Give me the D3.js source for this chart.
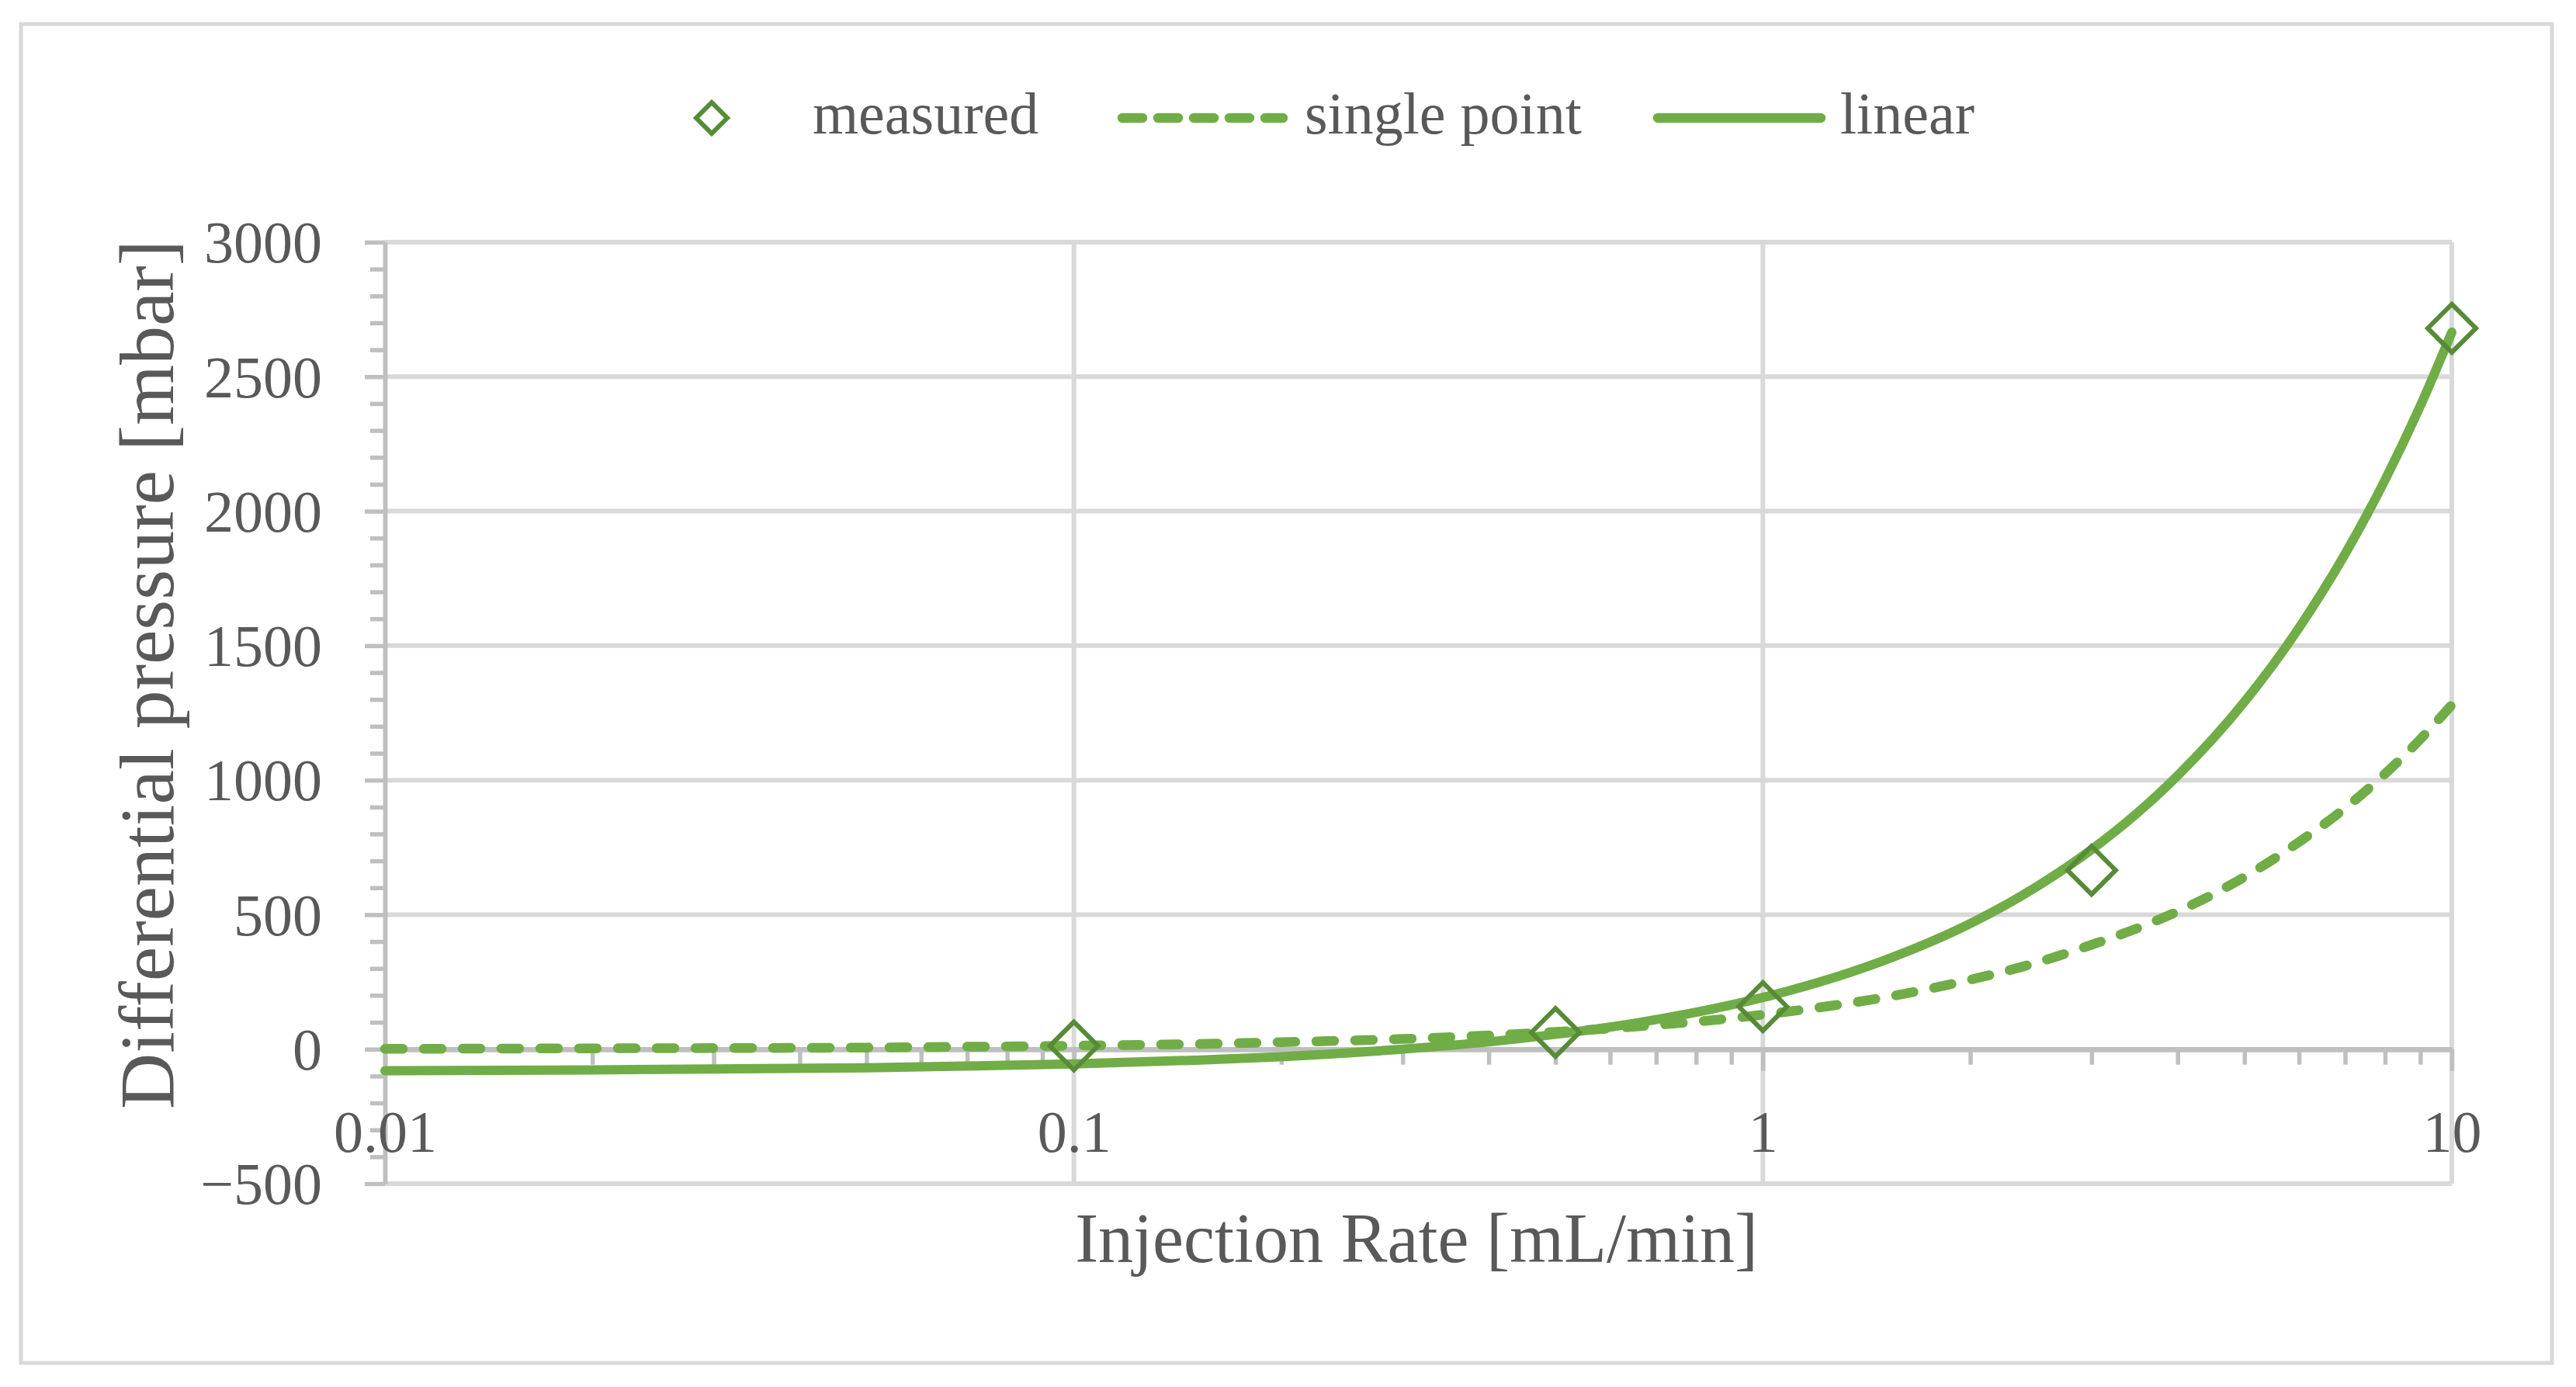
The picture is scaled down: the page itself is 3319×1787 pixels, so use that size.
<!DOCTYPE html>
<html>
<head>
<meta charset="utf-8">
<script src="https://cdn.jsdelivr.net/npm/d3@7"></script>
<style>
  html, body { margin: 0; padding: 0; background: #ffffff; }
  svg { display: block; }
  text { font-family: "Liberation Serif", "DejaVu Serif", serif; fill: #595959; }
</style>
</head>
<body>
<script>
// ---------------- data ----------------
const seriesNames = ["measured", "single point", "linear"];

const measuredX = [0.1, 0.5, 1, 3, 10];
const measuredY = [12, 62, 158, 665, 2680];

const curveX = [0.01, 0.02, 0.03, 0.05, 0.07, 0.1, 0.15, 0.2, 0.3, 0.4, 0.5, 0.6, 0.7, 0.8,
                1, 1.2, 1.5, 2, 2.5, 3, 3.5, 4, 5, 6, 7, 8, 9, 10];
const singlePointY = [1, 3, 4, 6, 9, 13, 19, 26, 38, 51, 64, 77, 90, 102,
                      128, 154, 192, 258, 322, 388, 450, 512, 640, 770, 896, 1024, 1152, 1280];
const linearY = [-80, -77, -74, -69, -63, -55, -41, -28, 0, 27, 55, 82, 110, 137,
                 192, 247, 330, 467, 605, 742, 879, 1017, 1291, 1566, 1841, 2116, 2391, 2665];

const yTicks = [-500, 0, 500, 1000, 1500, 2000, 2500, 3000];
const yTickLabels = ["\u2212500", "0", "500", "1000", "1500", "2000", "2500", "3000"];
const yMinorTicks = d3.range(-500, 3001, 100).filter(v => v % 500 !== 0);
const xTicks = [0.01, 0.1, 1, 10];
const xTickLabels = ["0.01", "0.1", "1", "10"];
const xMinorTicks = [0.02,0.03,0.04,0.05,0.06,0.07,0.08,0.09,
                     0.2,0.3,0.4,0.5,0.6,0.7,0.8,0.9,
                     2,3,4,5,6,7,8,9];

const xTitle = "Injection Rate [mL/min]";
const yTitle = "Differential pressure [mbar]";

// ---------------- layout ----------------
const W = 3319, H = 1787;
const green = "#70ad47";
const darkGreen = "#578b37";
const gridColor = "#d9d9d9";
const axisColor = "#bfbfbf";

const svg = d3.select("body").append("svg")
  .attr("width", W).attr("height", H)
  .attr("viewBox", `0 0 ${W} ${H}`);

svg.append("rect").attr("x", 0).attr("y", 0).attr("width", W).attr("height", H).attr("fill", "#fff");

// outer chart border
svg.append("rect")
  .attr("x", 27).attr("y", 31).attr("width", 3261).attr("height", 1725)
  .attr("fill", "none").attr("stroke", gridColor).attr("stroke-width", 5);

const x = d3.scaleLog().domain([0.01, 10]).range([496, 3159]);
const y = d3.scaleLinear().domain([-500, 3000]).range([1525, 312]);

// gridlines
const grid = svg.append("g");
grid.selectAll("line.h").data(yTicks.filter(v => v !== 0)).join("line")
  .attr("x1", x(0.01)).attr("x2", x(10))
  .attr("y1", d => y(d)).attr("y2", d => y(d))
  .attr("stroke", gridColor).attr("stroke-width", 6);
grid.selectAll("line.v").data(xTicks.filter(v => v !== 0.01)).join("line")
  .attr("x1", d => x(d)).attr("x2", d => x(d))
  .attr("y1", y(3000)).attr("y2", y(-500))
  .attr("stroke", gridColor).attr("stroke-width", 6);

// y axis
const yAxis = svg.append("g").attr("transform", `translate(${x(0.01)},0)`)
  .call(d3.axisLeft(y).tickValues(yTicks).tickSize(26).tickSizeOuter(0).tickPadding(55)
        .tickFormat((d, i) => yTickLabels[i]));
const yMinor = svg.append("g").attr("transform", `translate(${x(0.01)},0)`)
  .call(d3.axisLeft(y).tickValues(yMinorTicks).tickSize(19).tickSizeOuter(0).tickFormat(""));
[yAxis, yMinor].forEach(g => {
  g.select(".domain").attr("stroke", axisColor).attr("stroke-width", 5.5);
  g.selectAll(".tick line").attr("stroke", axisColor).attr("stroke-width", 5.5);
});
yAxis.selectAll(".tick text")
  .attr("fill", "#595959").attr("font-size", 76)
  .attr("font-family", "'Liberation Serif', serif").attr("dy", "0.34em");

// x axis (crosses at y = 0)
const xAxis = svg.append("g").attr("transform", `translate(0,${y(0)})`)
  .call(d3.axisBottom(x).tickValues(xTicks).tickSize(28).tickSizeOuter(0)
        .tickFormat((d, i) => xTickLabels[i]));
const xMinor = svg.append("g").attr("transform", `translate(0,${y(0)})`)
  .call(d3.axisBottom(x).tickValues(xMinorTicks).tickSize(20).tickSizeOuter(0).tickFormat(""));
[xAxis, xMinor].forEach(g => {
  g.select(".domain").attr("stroke", axisColor).attr("stroke-width", 6.5);
  g.selectAll(".tick line").attr("stroke", axisColor).attr("stroke-width", 5.5);
});
xAxis.selectAll(".tick text")
  .attr("fill", "#595959").attr("font-size", 76)
  .attr("font-family", "'Liberation Serif', serif")
  .attr("y", 132).attr("dy", 0);

// axis titles
svg.append("text")
  .attr("x", 1825).attr("y", 1626)
  .attr("text-anchor", "middle").attr("font-size", 90)
  .text(xTitle);
svg.append("text")
  .attr("transform", "translate(223,869) rotate(-90)")
  .attr("text-anchor", "middle").attr("font-size", 100)
  .text(yTitle);

// curves
const line = d3.line()
  .x(d => x(d[0])).y(d => y(d[1]))
  .curve(d3.curveMonotoneX);

svg.append("path")
  .datum(curveX.map((v, i) => [v, singlePointY[i]]))
  .attr("d", line)
  .attr("fill", "none").attr("stroke", green).attr("stroke-width", 12.5)
  .attr("stroke-linecap", "round").attr("stroke-dasharray", "23,27");

svg.append("path")
  .datum(curveX.map((v, i) => [v, linearY[i]]))
  .attr("d", line)
  .attr("fill", "none").attr("stroke", green).attr("stroke-width", 12)
  .attr("stroke-linecap", "round");

// measured diamonds
const diamond = (cx, cy, r) => `M${cx},${cy - r}L${cx + r},${cy}L${cx},${cy + r}L${cx - r},${cy}Z`;
svg.append("g").selectAll("path").data(measuredX.map((v, i) => [v, measuredY[i]])).join("path")
  .attr("d", d => diamond(x(d[0]), y(d[1]), 31))
  .attr("fill", "none").attr("stroke", darkGreen).attr("stroke-width", 6)
  .attr("stroke-linejoin", "miter");

// legend
const leg = svg.append("g");
const legY = 152;
leg.append("path").attr("d", diamond(917, legY, 20))
  .attr("fill", "none").attr("stroke", darkGreen).attr("stroke-width", 6);
leg.append("text").attr("x", 1047).attr("y", 172).attr("font-size", 76).text(seriesNames[0]);
leg.append("line").attr("x1", 1446).attr("x2", 1653).attr("y1", legY).attr("y2", legY)
  .attr("stroke", green).attr("stroke-width", 12.5).attr("stroke-linecap", "round")
  .attr("stroke-dasharray", "26,20");
leg.append("text").attr("x", 1681).attr("y", 172).attr("font-size", 76).text(seriesNames[1]);
leg.append("line").attr("x1", 2136).attr("x2", 2346).attr("y1", legY).attr("y2", legY)
  .attr("stroke", green).attr("stroke-width", 12.5).attr("stroke-linecap", "round");
leg.append("text").attr("x", 2371).attr("y", 172).attr("font-size", 76).text(seriesNames[2]);
</script>
</body>
</html>
